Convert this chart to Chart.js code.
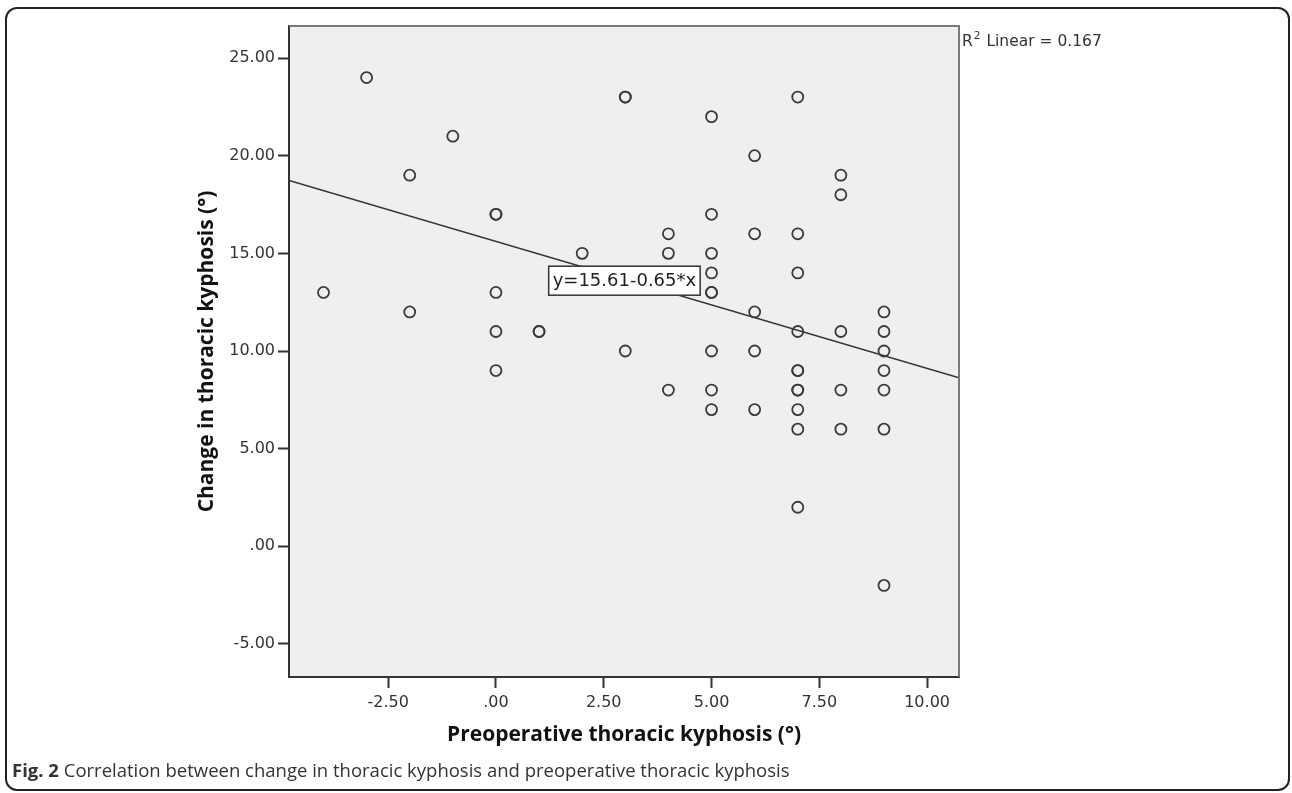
<!DOCTYPE html>
<html>
<head>
<meta charset="utf-8">
<script src="https://cdn.jsdelivr.net/npm/chart.js@4.4.1/dist/chart.umd.min.js"></script>
<style>
  html, body { margin: 0; padding: 0; background: #fff; }
  #frame {
    position: absolute; left: 5px; top: 7px; width: 1281px; height: 780px;
    border: 2px solid #222; border-radius: 12px;
  }
  #wrap { position: absolute; left: 0; top: 0; width: 1292px; height: 793px; }
  #caption {
    position: absolute; left: 12px; top: 757px;
    font: 18.5px 'Open Sans', sans-serif; color: #333; white-space: nowrap;
  }
</style>
</head>
<body>
<div id="frame"></div>
<div id="wrap"><canvas id="kyphosisChart" width="1292" height="793"></canvas></div>
<div id="caption"><b>Fig. 2</b> Correlation between change in thoracic kyphosis and preoperative thoracic kyphosis</div>
<script>
// Values (repeated pairs are overlapping points)
const preopKyphosis = [
    -4, -3, -2, -2, -1, 0, 0, 0, 0, 0, 1, 1, 2, 3, 3, 3, 4, 4, 4,
    5, 5, 5, 5, 5, 5, 5, 5, 5, 6, 6, 6, 6, 6,
    7, 7, 7, 7, 7, 7, 7, 7, 7, 7, 7, 8, 8, 8, 8, 8,
    9, 9, 9, 9, 9, 9, 9
];
const changeKyphosis = [
    13, 24, 19, 12, 21, 17, 17, 13, 11, 9, 11, 11, 15, 23, 23, 10, 16, 15, 8,
    22, 17, 15, 14, 13, 13, 10, 8, 7, 20, 16, 12, 10, 7,
    23, 16, 14, 11, 9, 9, 8, 8, 7, 6, 2, 19, 18, 11, 8, 6,
    12, 11, 10, 9, 8, 6, -2
];

// Fit line end points (y = 15.61 - 0.65x across the axis range)
const fitLineX = [-4.8, 10.74];
const fitLineY = [18.73, 8.63];
const fitEquation = 'y=15.61-0.65*x';
const rSquaredText = 'Linear = 0.167';

const xTickValues = [-2.5, 0, 2.5, 5, 7.5, 10];
const xTickLabels = ['-2.50', '.00', '2.50', '5.00', '7.50', '10.00'];
const yTickValues = [-5, 0, 5, 10, 15, 20, 25];
const yTickLabels = ['-5.00', '.00', '5.00', '10.00', '15.00', '20.00', '25.00'];

const tickFont = { family: 'DejaVu Sans', size: 16 };
const titleFont = { family: 'Open Sans', size: 21, weight: 'bold' };

const plotDecor = {
    id: 'plotDecor',
    beforeDraw(chart) {
        const { ctx, chartArea: a } = chart;
        ctx.save();
        ctx.fillStyle = '#efefef';
        ctx.fillRect(a.left, a.top, a.right - a.left, a.bottom - a.top);
        ctx.restore();
    },
    afterDatasetsDraw(chart, args, opts) {
        const { ctx, chartArea: a, scales } = chart;
        ctx.save();
        // top and right edges of the plot frame
        ctx.strokeStyle = '#7a7a7a';
        ctx.lineWidth = 2;
        ctx.beginPath();
        ctx.moveTo(a.left, a.top);
        ctx.lineTo(a.right, a.top);
        ctx.lineTo(a.right, a.bottom);
        ctx.stroke();

        // equation label
        const cx = scales.x.getPixelForValue(opts.labelX);
        const cy = scales.y.getPixelForValue(opts.labelY);
        ctx.font = '18px "DejaVu Sans"';
        const w = ctx.measureText(fitEquation).width + 8;
        const h = 29;
        ctx.fillStyle = '#fff';
        ctx.fillRect(cx - w / 2, cy - h / 2, w, h);
        ctx.strokeStyle = '#333';
        ctx.lineWidth = 1.5;
        ctx.strokeRect(cx - w / 2, cy - h / 2, w, h);
        ctx.fillStyle = '#222';
        ctx.textAlign = 'center';
        ctx.textBaseline = 'middle';
        ctx.fillText(fitEquation, cx, cy + 1);

        // R squared note to the right of the plot
        const x0 = a.right + 3;
        const base = a.top + 20;
        ctx.textAlign = 'left';
        ctx.textBaseline = 'alphabetic';
        ctx.fillStyle = '#333';
        ctx.font = '15.5px "DejaVu Sans"';
        ctx.fillText('R', x0, base);
        const rw = ctx.measureText('R').width;
        ctx.font = '10.5px "DejaVu Sans"';
        ctx.fillText('2', x0 + rw + 1, base - 7);
        const sw = ctx.measureText('2').width;
        ctx.font = '15.5px "DejaVu Sans"';
        ctx.fillText(' ' + rSquaredText, x0 + rw + sw + 2, base);
        ctx.restore();
    }
};

const points = preopKyphosis.map((x, i) => ({ x: x, y: changeKyphosis[i] }));
const fitLine = fitLineX.map((x, i) => ({ x: x, y: fitLineY[i] }));

new Chart(document.getElementById('kyphosisChart').getContext('2d'), {
    type: 'scatter',
    data: {
        datasets: [{
            label: 'Cases',
            data: points,
            pointStyle: 'circle',
            pointRadius: 5.5,
            pointBorderWidth: 1.8,
            pointBorderColor: '#3a3a3a',
            pointBackgroundColor: 'rgba(0,0,0,0)',
            order: 1
        }, {
            type: 'line',
            label: 'Linear fit',
            data: fitLine,
            borderColor: '#333',
            borderWidth: 1.5,
            pointRadius: 0,
            fill: false,
            order: 2
        }]
    },
    options: {
        responsive: false,
        animation: false,
        events: [],
        layout: {
            padding: { left: 185, top: 26, right: 333, bottom: 30 }
        },
        plugins: {
            legend: { display: false },
            tooltip: { enabled: false },
            plotDecor: { labelX: 2.98, labelY: 13.6 }
        },
        scales: {
            x: {
                type: 'linear',
                min: -4.8,
                max: 10.74,
                afterBuildTicks: scale => { scale.ticks = xTickValues.map(v => ({ value: v })); },
                afterFit: scale => { scale.height = 86; },
                grid: { drawOnChartArea: false, tickLength: 11, tickColor: '#333', tickWidth: 2 },
                border: { color: '#333', width: 2 },
                ticks: {
                    color: '#333',
                    font: tickFont,
                    padding: 5,
                    maxRotation: 0,
                    autoSkip: false,
                    callback: value => xTickLabels[xTickValues.indexOf(value)] ?? ''
                },
                title: {
                    display: true,
                    text: 'Preoperative thoracic kyphosis (°)',
                    color: '#111',
                    font: titleFont,
                    padding: { top: 0, bottom: 15 }
                }
            },
            y: {
                type: 'linear',
                min: -6.69,
                max: 26.64,
                afterBuildTicks: scale => { scale.ticks = yTickValues.map(v => ({ value: v })); },
                afterFit: scale => { scale.width = 289 - 185; },
                grid: { drawOnChartArea: false, tickLength: 11, tickColor: '#333', tickWidth: 2 },
                border: { color: '#333', width: 2 },
                ticks: {
                    color: '#333',
                    font: tickFont,
                    padding: 3,
                    autoSkip: false,
                    callback: value => yTickLabels[yTickValues.indexOf(value)] ?? ''
                },
                title: {
                    display: true,
                    text: 'Change in thoracic kyphosis (°)',
                    color: '#111',
                    font: titleFont,
                    padding: { top: 9, bottom: 0 }
                }
            }
        }
    },
    plugins: [plotDecor]
});
</script>
</body>
</html>
